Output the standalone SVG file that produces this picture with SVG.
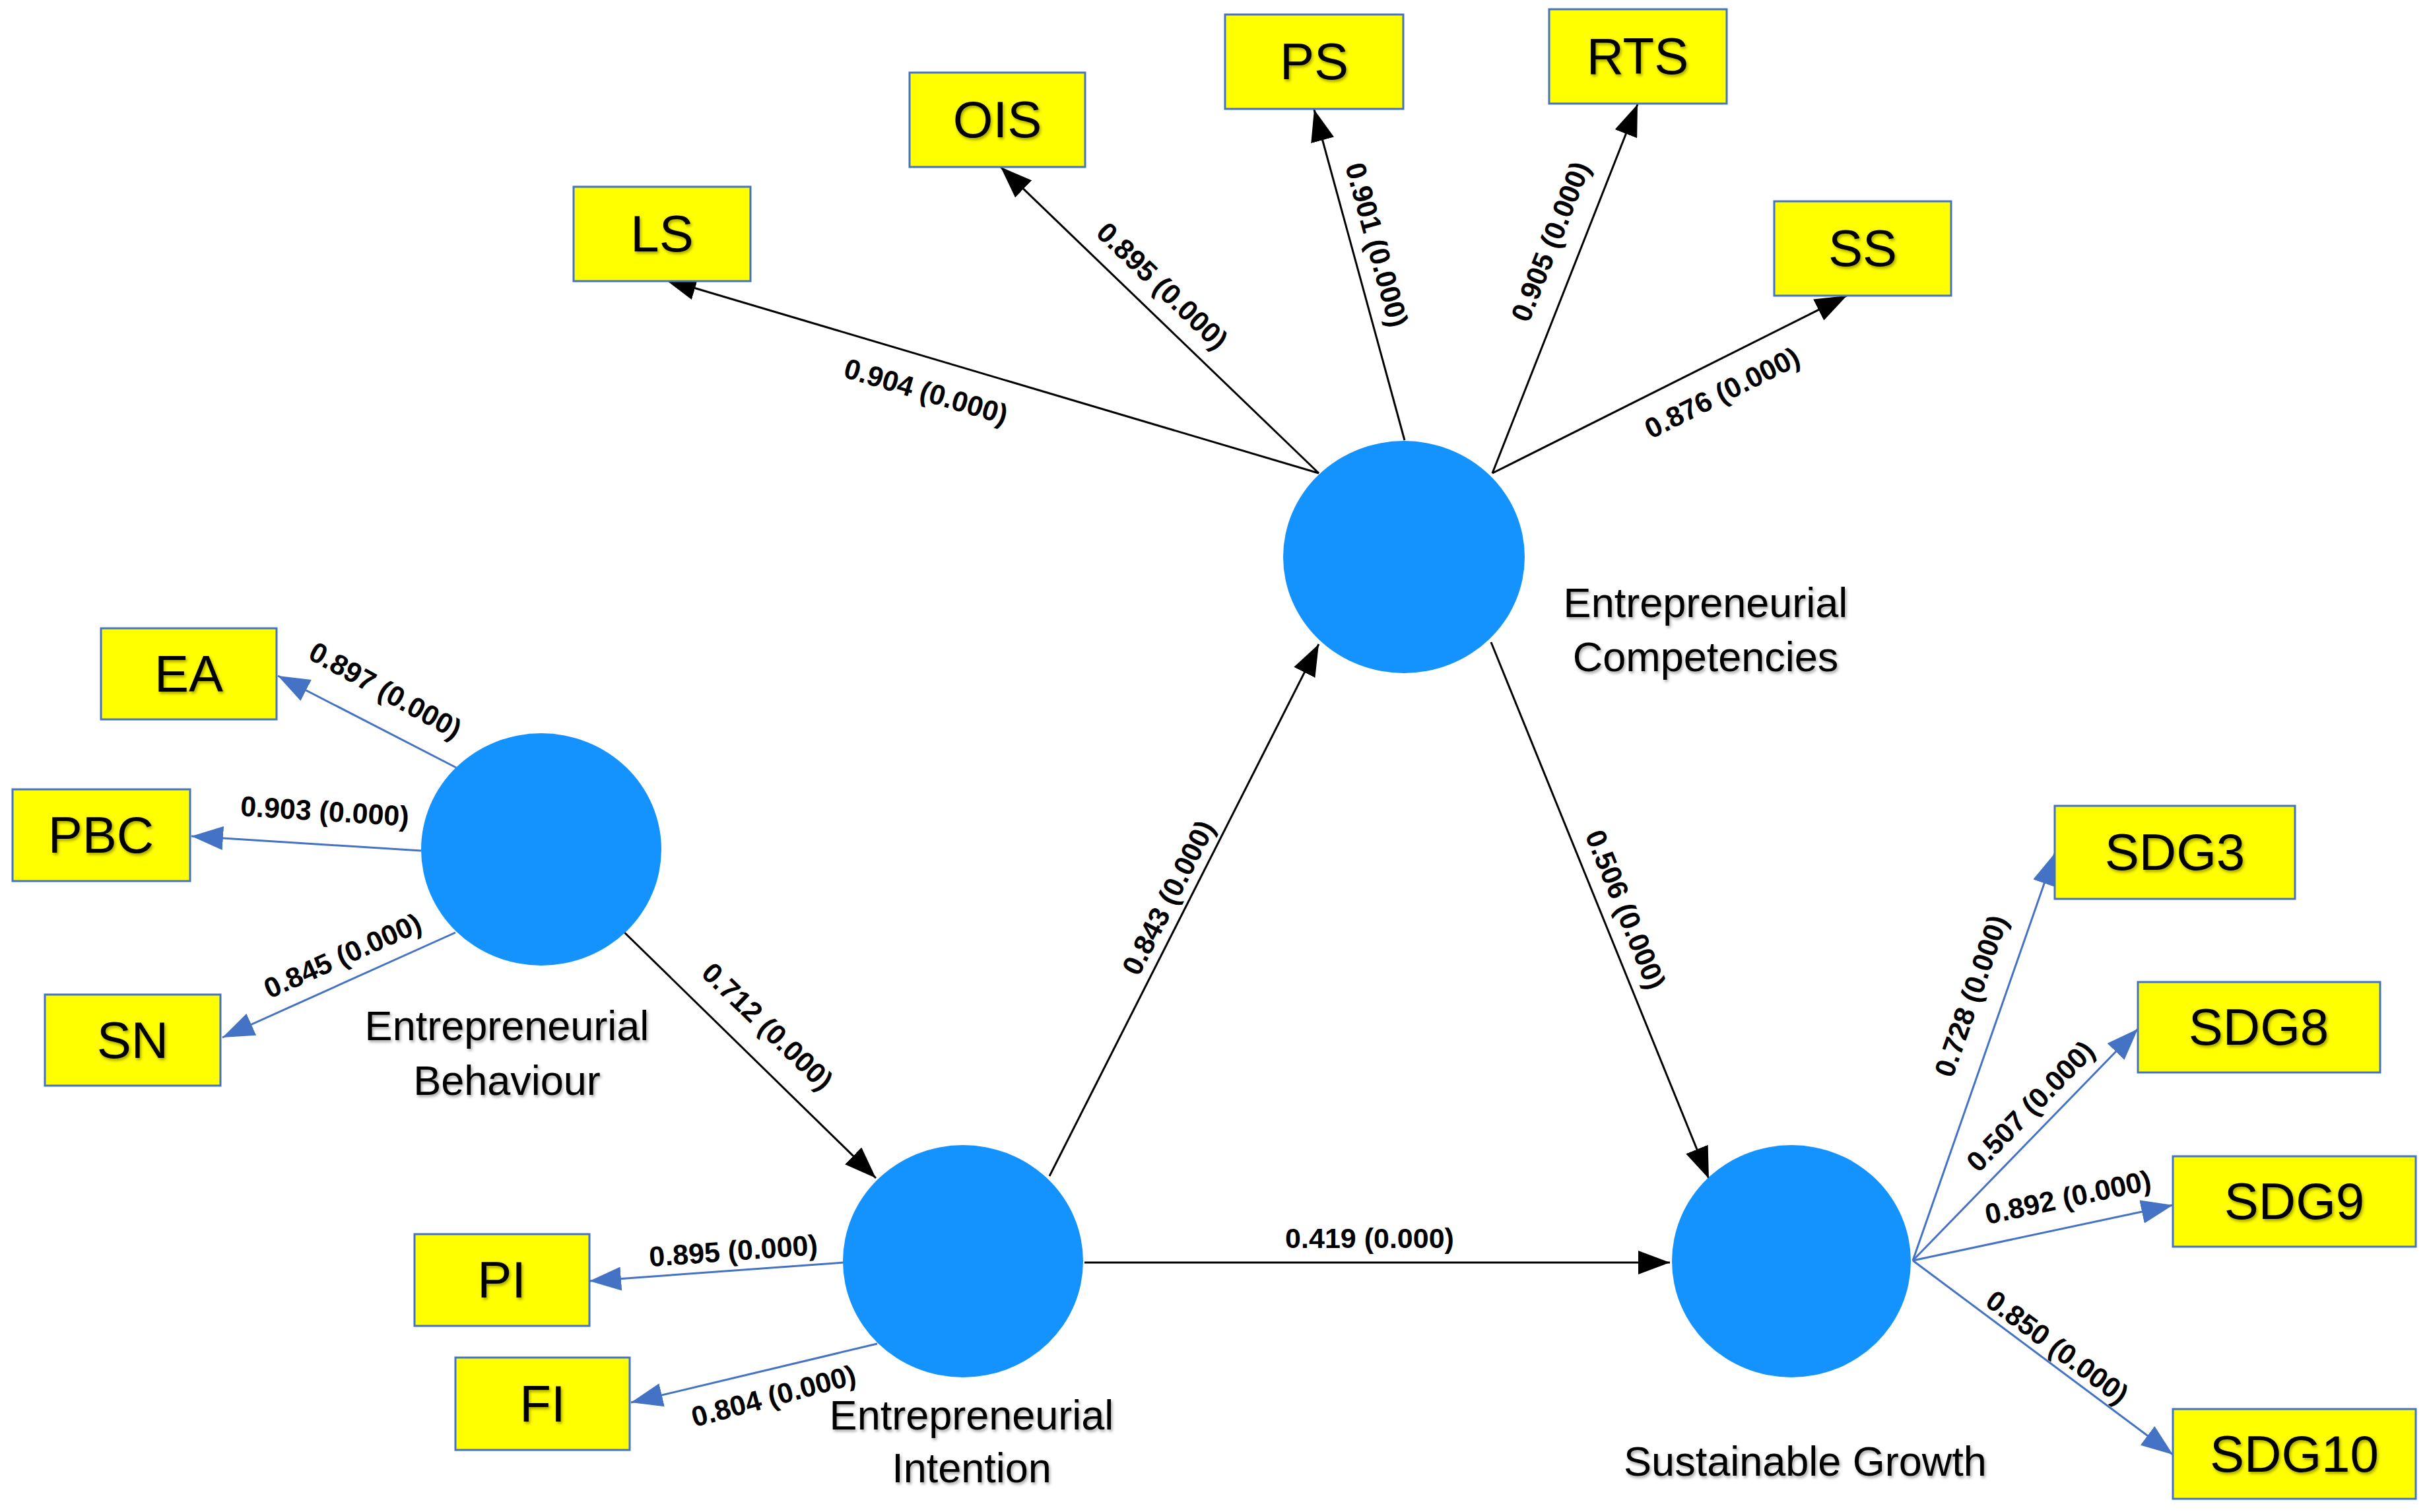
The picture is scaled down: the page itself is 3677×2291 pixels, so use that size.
<svg xmlns="http://www.w3.org/2000/svg" width="3677" height="2291" viewBox="0 0 3677 2291">
<style>
.box{fill:#FFFF00;stroke:#4472C4;stroke-width:3}
.lv{fill:#1493FF}
.bt{font-family:"Liberation Sans",Arial,sans-serif;font-size:78px;fill:#000;text-anchor:middle;dominant-baseline:central;filter:url(#sh)}
.nt{font-family:"Liberation Sans",Arial,sans-serif;font-size:63px;fill:#000;text-anchor:middle;dominant-baseline:central;filter:url(#sh)}
.el{font-family:"Liberation Sans",Arial,sans-serif;font-size:43px;font-weight:bold;fill:#000;text-anchor:middle;dominant-baseline:central}
.k{stroke:#000;stroke-width:3;fill:none;marker-end:url(#ak)}
.b{stroke:#4472C4;stroke-width:3;fill:none;marker-end:url(#ab)}
</style>
<defs>
<marker id="ak" markerUnits="userSpaceOnUse" markerWidth="48" markerHeight="36" refX="48" refY="18" orient="auto"><path d="M0,0 L48,18 L0,36 z" fill="#000"/></marker>
<marker id="ab" markerUnits="userSpaceOnUse" markerWidth="48" markerHeight="36" refX="48" refY="18" orient="auto"><path d="M0,0 L48,18 L0,36 z" fill="#4472C4"/></marker>
<filter id="sh" x="-10%" y="-20%" width="120%" height="140%"><feDropShadow dx="2" dy="3" stdDeviation="2" flood-color="#000" flood-opacity="0.35"/></filter>
</defs>
<rect width="3677" height="2291" fill="#fff"/>

<g id="connectors">
<line class="k" x1="1998" y1="717" x2="1007" y2="423"/>
<line class="k" x1="1998" y1="717" x2="1516" y2="253"/>
<line class="k" x1="2128" y1="667" x2="1991" y2="166"/>
<line class="k" x1="2261" y1="717" x2="2481" y2="158"/>
<line class="k" x1="2261" y1="717" x2="2798" y2="448"/>
<line class="b" x1="691" y1="1163" x2="421" y2="1024"/>
<line class="b" x1="638" y1="1289" x2="290" y2="1267"/>
<line class="b" x1="690" y1="1413" x2="337" y2="1572"/>
<line class="b" x1="1278" y1="1913" x2="893" y2="1941"/>
<line class="b" x1="1329" y1="2036" x2="956" y2="2125"/>
<line class="b" x1="2898" y1="1910" x2="3113" y2="1293"/>
<line class="b" x1="2898" y1="1910" x2="3239" y2="1559"/>
<line class="b" x1="2898" y1="1910" x2="3292" y2="1826"/>
<line class="b" x1="2898" y1="1910" x2="3292" y2="2204"/>
<line class="k" x1="940" y1="1407" x2="1327" y2="1785"/>
<line class="k" x1="1590" y1="1782" x2="1998" y2="976"/>
<line class="k" x1="2259" y1="973" x2="2589" y2="1786"/>
<line class="k" x1="1643" y1="1913" x2="2530" y2="1913"/>

<text class="el" transform="translate(1403,593) rotate(16.5)">0.904 (0.000)</text>
<text class="el" transform="translate(1761,433) rotate(43.9)">0.895 (0.000)</text>
<text class="el" transform="translate(2086,371) rotate(74.7)">0.901 (0.000)</text>
<text class="el" transform="translate(2349,366) rotate(-68.5)">0.905 (0.000)</text>
<text class="el" transform="translate(2609,595) rotate(-26.6)">0.876 (0.000)</text>
<text class="el" transform="translate(584,1046) rotate(29)">0.897 (0.000)</text>
<text class="el" transform="translate(492,1229) rotate(3.6)">0.903 (0.000)</text>
<text class="el" transform="translate(519,1448) rotate(-24)">0.845 (0.000)</text>
<text class="el" transform="translate(1163,1555) rotate(44)">0.712 (0.000)</text>
<text class="el" transform="translate(1111,1895) rotate(-4.2)">0.895 (0.000)</text>
<text class="el" transform="translate(1172,2115) rotate(-15)">0.804 (0.000)</text>
<text class="el" transform="translate(1770,1360) rotate(-62.9)">0.843 (0.000)</text>
<text class="el" transform="translate(2463,1378) rotate(67.9)">0.506 (0.000)</text>
<text class="el" transform="translate(2075,1876)">0.419 (0.000)</text>
<text class="el" transform="translate(2986,1509) rotate(-70.8)">0.728 (0.000)</text>
<text class="el" transform="translate(3076,1676) rotate(-45.8)">0.507 (0.000)</text>
<text class="el" transform="translate(3133,1814) rotate(-12)">0.892 (0.000)</text>
<text class="el" transform="translate(3117,2041) rotate(36.7)">0.850 (0.000)</text>
</g>

<g id="EC"><ellipse class="lv" cx="2127" cy="844" rx="183" ry="176"/>
<text class="nt" x="2584" y="913">Entrepreneurial</text><text class="nt" x="2584" y="995">Competencies</text></g>
<g id="EB"><ellipse class="lv" cx="820" cy="1287" rx="182" ry="176"/>
<text class="nt" x="768" y="1554">Entrepreneurial</text><text class="nt" x="768" y="1637">Behaviour</text></g>
<g id="EI"><ellipse class="lv" cx="1459" cy="1911" rx="182" ry="176"/>
<text class="nt" x="1472" y="2144">Entrepreneurial</text><text class="nt" x="1472" y="2224">Intention</text></g>
<g id="SG"><ellipse class="lv" cx="2714" cy="1911" rx="181" ry="176"/>
<text class="nt" x="2735" y="2214">Sustainable Growth</text></g>

<g id="LS"><rect class="box" x="869" y="283" width="268" height="143"/><text class="bt" x="1003" y="354">LS</text></g>
<g id="OIS"><rect class="box" x="1378" y="110" width="266" height="143"/><text class="bt" x="1511" y="181">OIS</text></g>
<g id="PS"><rect class="box" x="1856" y="22" width="270" height="143"/><text class="bt" x="1991" y="93">PS</text></g>
<g id="RTS"><rect class="box" x="2347" y="14" width="269" height="143"/><text class="bt" x="2481" y="85">RTS</text></g>
<g id="SS"><rect class="box" x="2688" y="305" width="268" height="143"/><text class="bt" x="2822" y="376">SS</text></g>
<g id="EA"><rect class="box" x="153" y="952" width="266" height="138"/><text class="bt" x="286" y="1021">EA</text></g>
<g id="PBC"><rect class="box" x="19" y="1196" width="269" height="139"/><text class="bt" x="153" y="1265">PBC</text></g>
<g id="SN"><rect class="box" x="68" y="1507" width="266" height="138"/><text class="bt" x="201" y="1576">SN</text></g>
<g id="PI"><rect class="box" x="628" y="1870" width="265" height="139"/><text class="bt" x="760" y="1939">PI</text></g>
<g id="FI"><rect class="box" x="690" y="2057" width="264" height="140"/><text class="bt" x="822" y="2127">FI</text></g>
<g id="SDG3"><rect class="box" x="3113" y="1221" width="364" height="141"/><text class="bt" x="3295" y="1291">SDG3</text></g>
<g id="SDG8"><rect class="box" x="3239" y="1488" width="367" height="137"/><text class="bt" x="3422" y="1556">SDG8</text></g>
<g id="SDG9"><rect class="box" x="3292" y="1752" width="368" height="137"/><text class="bt" x="3476" y="1820">SDG9</text></g>
<g id="SDG10"><rect class="box" x="3292" y="2135" width="368" height="136"/><text class="bt" x="3476" y="2203">SDG10</text></g>
</svg>
